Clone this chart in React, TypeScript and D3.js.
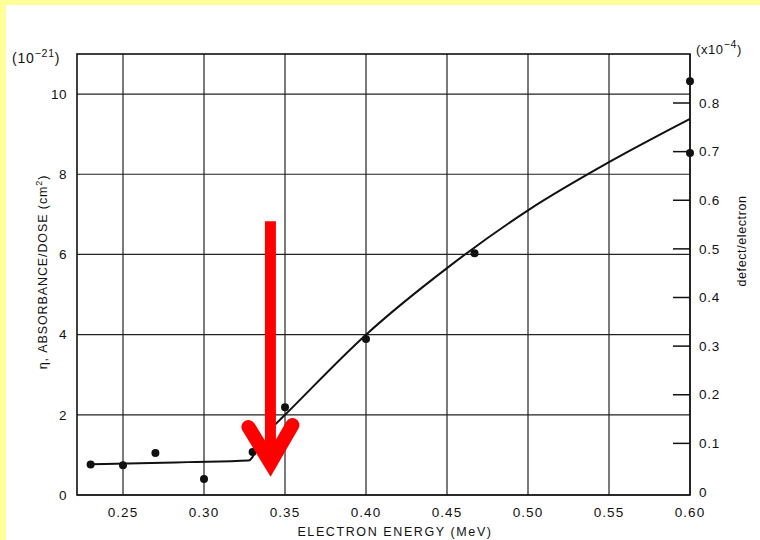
import React from "react";
import * as d3 from "d3";

// measured points (energy MeV, eta in 1e-21 cm^2)
const pointEnergy = [0.23, 0.25, 0.27, 0.3, 0.33, 0.35, 0.4, 0.467, 0.6, 0.6];
const pointEta = [0.76, 0.74, 1.05, 0.4, 1.07, 2.19, 3.89, 6.03, 10.32, 8.53];

// low-energy plateau curve
const lowCurveEnergy = [0.23, 0.26, 0.29, 0.3275, 0.3298, 0.3315];
const lowCurveEta = [0.77, 0.79, 0.82, 0.86, 0.94, 1.07];

// rising curve above threshold
const highCurveEnergy = [0.342, 0.35, 0.4, 0.45, 0.5, 0.55, 0.6];
const highCurveEta = [1.68, 2.0, 4.0, 5.66, 7.1, 8.3, 9.38];

const xTicks = [0.25, 0.3, 0.35, 0.4, 0.45, 0.5, 0.55, 0.6];
const yLeftTicks = [0, 2, 4, 6, 8, 10];
const yRightTicks = [0, 0.1, 0.2, 0.3, 0.4, 0.5, 0.6, 0.7, 0.8];

// threshold arrow (energy, eta top, eta tip)
const arrowEnergy = 0.341;
const arrowTop = 6.83;
const arrowTip = 0.7;

const W = 760;
const H = 540;
const left = 77, right = 690, top = 54, bottom = 495;
const font = "'Liberation Sans', Arial, sans-serif";

export default function App() {
  const x = d3.scaleLinear().domain([0.2216, 0.6]).range([left, right]);
  const y = d3.scaleLinear().domain([0, 11]).range([bottom, top]);
  const yR = d3.scaleLinear().domain([0, 0.8]).range([492, 103]);

  const line = d3
    .line<[number, number]>()
    .x((d) => x(d[0]))
    .y((d) => y(d[1]));

  const lowPath = line.curve(d3.curveMonotoneX)(lowCurveEnergy.map((e, i) => [e, lowCurveEta[i]]));
  const highPath = line.curve(d3.curveMonotoneX)(
    highCurveEnergy.map((e, i) => [e, highCurveEta[i]])
  );

  const ax = x(arrowEnergy);
  const aTop = y(arrowTop);
  const aTip = y(arrowTip);

  return (
    <svg
      width={W}
      height={H}
      style={{ position: "absolute", left: 0, top: 0 }}
      fontFamily={font}
    >
      <rect width={W} height={H} fill="#fff" />
      <rect width={W} height={5} fill="#ffff99" />
      <rect width={6} height={H} fill="#ffff99" />

      {/* grid */}
      {xTicks.map((t) => (
        <line key={"gx" + t} x1={x(t)} x2={x(t)} y1={top} y2={bottom} stroke="#222" strokeWidth={1.2} />
      ))}
      {yLeftTicks.map((t) => (
        <line key={"gy" + t} x1={left} x2={right} y1={y(t)} y2={y(t)} stroke="#222" strokeWidth={1.2} />
      ))}

      {/* frame */}
      <rect x={left} y={top} width={right - left} height={bottom - top} fill="none" stroke="#111" strokeWidth={1.6} />

      {/* right axis ticks */}
      {yRightTicks.slice(1).map((t) => (
        <line key={"rt" + t} x1={right - 17} x2={right} y1={yR(t)} y2={yR(t)} stroke="#111" strokeWidth={1.5} />
      ))}
      {yRightTicks.map((t) => (
        <text key={"rl" + t} x={right + 9} y={yR(t)} dy="0.35em" fontSize={13.5} letterSpacing={0.8} fill="#111">
          {t === 0 ? "0" : t.toFixed(1)}
        </text>
      ))}

      {/* left labels */}
      {yLeftTicks.map((t) => (
        <text key={"ll" + t} x={left - 10} y={y(t)} dy="0.35em" textAnchor="end" fontSize={13.5} letterSpacing={0.5} fill="#111">
          {t}
        </text>
      ))}

      {/* x labels */}
      {xTicks.map((t) => (
        <text key={"xl" + t} x={x(t)} y={bottom + 22} textAnchor="middle" fontSize={13.5} letterSpacing={1} fill="#111">
          {t.toFixed(2)}
        </text>
      ))}

      {/* curves */}
      <path d={lowPath ?? ""} fill="none" stroke="#111" strokeWidth={2} />
      <path d={highPath ?? ""} fill="none" stroke="#111" strokeWidth={2} />

      {/* points */}
      {pointEnergy.map((e, i) => (
        <circle key={"p" + i} cx={x(e)} cy={y(pointEta[i])} r={4} fill="#111" />
      ))}

      {/* unit annotations */}
      <text x={12} y={63} fontSize={14} letterSpacing={0.8} fill="#111">
        (10<tspan dy={-6} fontSize={10.5}>−21</tspan><tspan dy={6}>)</tspan>
      </text>
      <text x={696} y={54} fontSize={13} letterSpacing={0.6} fill="#111">
        (x10<tspan dy={-6} fontSize={10.5}>−4</tspan><tspan dy={6}>)</tspan>
      </text>

      {/* axis titles */}
      <text x={395} y={536} textAnchor="middle" fontSize={12.5} letterSpacing={1.6} fill="#111">
        ELECTRON ENERGY (MeV)
      </text>
      <text
        transform={`translate(47,272) rotate(-90)`}
        textAnchor="middle"
        fontSize={12.5}
        letterSpacing={0.9}
        fill="#111"
      >
        η, ABSORBANCE/DOSE (cm<tspan dy={-5} fontSize={9}>2</tspan><tspan dy={5}>)</tspan>
      </text>
      <text
        transform={`translate(746,241) rotate(-90)`}
        textAnchor="middle"
        fontSize={12.5}
        letterSpacing={0.6}
        fill="#111"
      >
        defect/electron
      </text>

      {/* threshold arrow */}
      <line x1={ax} x2={ax} y1={aTop} y2={aTip - 12} stroke="#ff0000" strokeWidth={11} />
      <polyline
        points={`${ax - 22},${aTip - 40} ${ax},${aTip - 4} ${ax + 22},${aTip - 42}`}
        fill="none"
        stroke="#ff0000"
        strokeWidth={14}
        strokeLinecap="round"
        strokeLinejoin="miter"
      />
    </svg>
  );
}
